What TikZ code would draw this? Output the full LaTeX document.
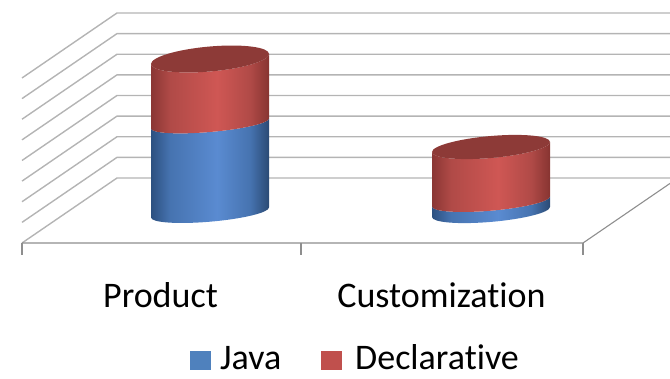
\documentclass[tikz,border=0pt]{standalone}
\usepackage{fontspec}
\setmainfont{Carlito}[Ligatures={NoCommon}, RawFeature={-liga;-dlig}]

\definecolor{gridgray}{HTML}{B4B4B4}
\definecolor{axisgray}{HTML}{8E8E8E}
\definecolor{javaedge}{HTML}{2C5080}
\definecolor{javasoft}{HTML}{4673B0}
\definecolor{javamid}{HTML}{5A8BD1}
\definecolor{javaright}{HTML}{2B4A74}
\definecolor{decledge}{HTML}{8A3634}
\definecolor{declsoft}{HTML}{B04A47}
\definecolor{declmid}{HTML}{CF5754}
\definecolor{declright}{HTML}{873431}
\definecolor{decltop}{HTML}{8D3A37}
\definecolor{javakey}{HTML}{4F81BD}
\definecolor{declkey}{HTML}{C0504D}

% side shadings of the cylinders: dark rims, highlight right of centre
\pgfdeclarehorizontalshading{javaside}{100bp}{color(0bp)=(javaedge); color(25bp)=(javaedge);
  color(33bp)=(javasoft); color(53bp)=(javamid); color(67bp)=(javasoft); color(75bp)=(javaright); color(100bp)=(javaright)}
\pgfdeclarehorizontalshading{declside}{100bp}{color(0bp)=(decledge); color(25bp)=(decledge);
  color(33bp)=(declsoft); color(53bp)=(declmid); color(67bp)=(declsoft); color(75bp)=(declright); color(100bp)=(declright)}

\tikzset{
  gridline/.style={draw=gridgray, line width=1.4pt},
  axisline/.style={draw=axisgray, line width=1.1pt},
  label/.style={inner sep=0pt, font=\fontsize{36}{40}\selectfont, text=black},
  keybox/.style={inner sep=0pt, minimum width=21pt, minimum height=19pt},
}

% one stacked segment of a cylinder: centre x, bottom y, bottom radius, top y, top radius, shading
\newcommand\cylsegment[6]{%
  \begin{scope}[shift={(#1,0)}, yslant=0.085]
    \shade[shading=#6] (-59,#4) -- (-59,#2)
      arc[start angle=180, end angle=360, x radius=59, y radius=#3]
      -- (59,#4)
      arc[start angle=0, end angle=-180, x radius=59, y radius=#5] -- cycle;
  \end{scope}}
% top face of a cylinder
\newcommand\cyltop[3]{%
  \begin{scope}[shift={(#1,0)}, yslant=0.085]
    \fill[decltop] (0,#2) ellipse[x radius=59, y radius=#3];
  \end{scope}}

\begin{document}
\begin{tikzpicture}[x=1pt, y=1pt]
  \useasboundingbox (0,0) rectangle (670,379);
  \clip (0,0) rectangle (670,379);

  % back and side walls
  \foreach \i in {0,...,8} {
    \pgfmathsetmacro\yy{366-20.625*\i}
    \draw[gridline] (22,\yy-65) -- (117,\yy) -- (680,\yy);
  }
  % floor front edge and category ticks
  \draw[axisline] (22,136) -- (583,136) -- (680,202.4);
  \draw[axisline] (22,136) -- (22,124);
  \draw[axisline] (301,136) -- (301,124);
  \draw[axisline] (583,136) -- (583,124);

  % Product
  \cylsegment{210}{166.5}{9.2}{255.5}{8.5}{javaside}
  \cylsegment{210}{255.5}{8.5}{320}{12.5}{declside}
  \cyltop{210}{320}{12.5}

  % Customization
  \cylsegment{491}{167}{9.9}{177.5}{9.2}{javaside}
  \cylsegment{491}{177.5}{9.2}{232}{11}{declside}
  \cyltop{491}{232}{11}

  % category labels
  \node[label, anchor=base] (product) at (160.5,71) {Product};
  \node[label, anchor=base] (custom) at (441.5,71) {Customization};

  % legend
  \node[keybox, fill=javakey, anchor=south west] (javabox) at (190,9) {};
  \node[label, anchor=base west] (javatext) at (220,9) {Java};
  \node[keybox, fill=declkey, anchor=south west] (declbox) at (321,9) {};
  \node[label, anchor=base west] (decltext) at (355,9) {Declarative};
\end{tikzpicture}
\end{document}
